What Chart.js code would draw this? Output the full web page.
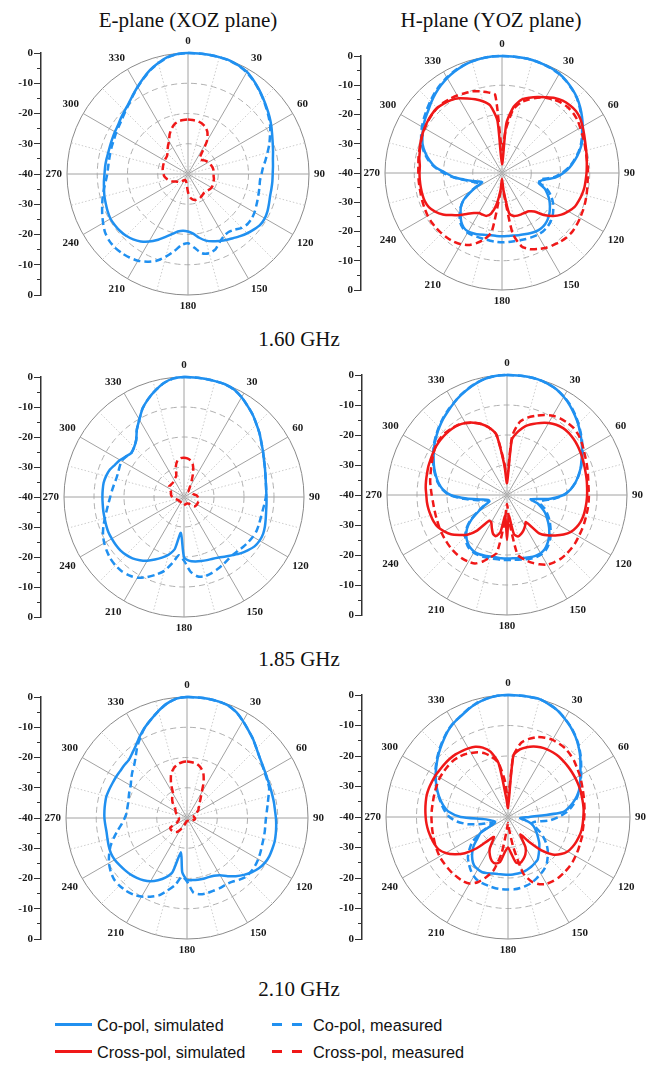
<!DOCTYPE html>
<html><head><meta charset="utf-8">
<script src="https://cdn.jsdelivr.net/npm/chart.js@4.4.0/dist/chart.umd.min.js"></script>
<style>
html,body{margin:0;padding:0;background:#fff;}
body{width:658px;height:1065px;position:relative;overflow:hidden;}
canvas{position:absolute;}
.t{position:absolute;font-family:'Liberation Serif','Times New Roman',serif;font-size:21px;line-height:21px;color:#111;white-space:nowrap;transform:translateX(-50%);}
.leg{position:absolute;font-family:'Liberation Sans',Arial,sans-serif;font-size:16.3px;line-height:18px;color:#111;white-space:nowrap;}
.ln{position:absolute;height:3px;}
</style></head><body>
<div class="t" style="left:188px;top:10px;">E-plane (XOZ plane)</div>
<div class="t" style="left:491px;top:10px;">H-plane (YOZ plane)</div>
<div class="t" style="left:299px;top:329px;">1.60 GHz</div>
<div class="t" style="left:299px;top:649px;">1.85 GHz</div>
<div class="t" style="left:299px;top:979px;">2.10 GHz</div>

<div class="ln" style="left:55px;top:1023px;width:37px;background:#2090F0;"></div>
<div class="leg" style="left:97px;top:1016px;">Co-pol, simulated</div>
<div class="ln" style="left:55px;top:1050px;width:37px;background:#F01818;"></div>
<div class="leg" style="left:97px;top:1043px;">Cross-pol, simulated</div>
<div class="ln" style="left:272px;top:1023px;width:10px;background:#2090F0;"></div>
<div class="ln" style="left:292px;top:1023px;width:10px;background:#2090F0;"></div>
<div class="leg" style="left:313px;top:1016px;">Co-pol, measured</div>
<div class="ln" style="left:272px;top:1050px;width:10px;background:#F01818;"></div>
<div class="ln" style="left:292px;top:1050px;width:10px;background:#F01818;"></div>
<div class="leg" style="left:313px;top:1043px;">Cross-pol, measured</div>

<script>
// angle categories (degrees), 5-degree steps
const ANGLES = [0,5,10,15,20,25,30,35,40,45,50,55,60,65,70,75,80,85,90,95,100,105,110,115,120,125,130,135,140,145,150,155,160,165,170,175,180,185,190,195,200,205,210,215,220,225,230,235,240,245,250,255,260,265,270,275,280,285,290,295,300,305,310,315,320,325,330,335,340,345,350,355];
// linear axis labels beside each polar plot (top to bottom)
const AXIS_LABELS = [0,-10,-20,-30,-40,-30,-20,-10,0];
const R_MIN = -40, R_MAX = 0, R_STEP = 10;

// E-plane 1.60 GHz
const e160CoSim = [0,0,0,0,0,-0.4,-1.0,-2.2,-3.5,-4.8,-6.0,-7.1,-8.2,-9.3,-10.2,-10.9,-11.5,-11.8,-12,-12,-12,-11.9,-11.5,-11.0,-10.7,-10.8,-11.5,-12.3,-13.2,-14.1,-14.8,-15.6,-16.3,-17.2,-18.6,-20.2,-21,-21.2,-20.7,-19.4,-17.8,-15.9,-14.2,-12.8,-11.8,-11.1,-10.7,-10.5,-10.4,-10.7,-11.1,-11.4,-11.8,-12.1,-12.4,-12.5,-12.6,-12.7,-12.6,-12.4,-12.1,-11.8,-11.1,-10.4,-9.5,-8.2,-6.7,-5.1,-3.4,-2.0,-0.8,-0.2];
const e160CoMeas = [0,0,0,0,-0.1,-0.5,-1.2,-2.3,-3.6,-4.9,-6.2,-7.4,-8.6,-10.1,-11.4,-12.8,-14.0,-15.1,-15.7,-16.1,-16.0,-15.8,-15.5,-15.1,-14.6,-14.3,-14.3,-14.8,-16.0,-16.6,-16.3,-15.2,-13.5,-12.9,-13.4,-15.5,-17.1,-16.5,-14.2,-11.7,-9.5,-8.0,-6.9,-6.3,-5.9,-5.7,-5.9,-6.5,-7.6,-8.7,-9.8,-10.8,-11.8,-12.7,-13.3,-13.5,-13.5,-13.4,-13.2,-13.0,-12.6,-12.2,-11.6,-10.7,-9.7,-8.3,-6.8,-5.2,-3.5,-2.1,-0.9,-0.2];
const e160XMeas = [-22,-22.1,-22.2,-22.6,-23.4,-24.8,-27.5,-33,-33.8,-33.5,-33,-32.6,-32.3,-32,-31.8,-31.6,-31.5,-31.5,-31.5,-31.5,-31.3,-31.2,-31.1,-31,-31,-31.2,-31.5,-31.7,-31.8,-31.6,-31.3,-31.1,-31.1,-31.1,-31.5,-32.2,-34,-36,-37,-37.5,-37.7,-37.8,-37.7,-37.3,-36.6,-36.2,-35.9,-35.6,-35,-34.2,-33.5,-33,-32.5,-32.1,-31.9,-31.7,-31.5,-31.4,-31.3,-31.2,-31.1,-31,-30.9,-30.4,-29.5,-28.5,-27.5,-25.6,-24.1,-22.9,-22.3,-22.1];

// H-plane 1.60 GHz
const h160CoSim = [0,0,0,0,-0.2,-0.4,-0.8,-1.6,-2.6,-3.7,-5.1,-6.6,-8.1,-9.5,-11.0,-12.8,-14.7,-16.7,-19.0,-21.7,-26,-27,-24.5,-22.8,-21.3,-20,-18.8,-17.8,-17.1,-16.8,-16.9,-17.3,-17.7,-18.0,-18.3,-18.4,-18.4,-18.4,-18.4,-18.1,-17.6,-17.2,-16.9,-17.2,-18.3,-20.0,-21.6,-24,-28.5,-32.5,-31.5,-29.5,-27,-23.5,-20.8,-17.2,-14.8,-12.8,-11.1,-10.0,-8.9,-7.9,-7.0,-5.8,-4.6,-3.5,-2.5,-1.7,-1.0,-0.5,-0.2,0];
const h160CoMeas = [0,0,0,0,-0.2,-0.5,-0.9,-1.7,-2.7,-3.8,-5.3,-6.9,-8.4,-9.8,-11.3,-13.0,-15.0,-17.0,-19.5,-22.5,-27,-26.5,-23.5,-21.5,-19.9,-18.6,-17.4,-16.5,-15.9,-15.6,-15.6,-15.8,-16.0,-16.2,-16.3,-16.3,-16.3,-16.4,-16.5,-16.6,-16.6,-16.4,-16.4,-16.8,-17.8,-19.5,-21.5,-24,-28,-31.5,-30.5,-29,-26.5,-23.3,-20,-16.9,-14.4,-12.4,-10.7,-9.5,-8.4,-7.4,-6.4,-5.3,-4.2,-3.2,-2.3,-1.5,-0.9,-0.5,-0.2,0];
const h160XSim = [-37,-23,-17,-14,-12.6,-11.3,-10.1,-8.7,-7.7,-7.2,-7.0,-7.4,-8.2,-9.0,-9.7,-10.2,-10.6,-10.9,-11.1,-11.3,-11.4,-11.7,-12.1,-12.6,-13.8,-15.2,-17.1,-19.7,-22.8,-24.0,-24.3,-24.4,-24.5,-24.8,-26,-34,-38,-34,-29,-25.6,-24.4,-24.3,-24.2,-23.3,-21.8,-19.7,-17.6,-15.3,-13.6,-12.4,-11.9,-11.8,-11.8,-11.8,-11.8,-11.8,-11.3,-10.9,-10.3,-9.8,-9.4,-9.0,-8.7,-8.6,-9.0,-9.6,-10.5,-11.9,-13.2,-14.6,-16.5,-22];
const h160XMeas = [-32,-25,-18,-15,-13.3,-11.6,-10.3,-9.3,-8.6,-8.2,-8.2,-8.5,-9.1,-9.6,-10.0,-10.4,-10.6,-10.6,-10.6,-10.6,-10.4,-10.1,-9.8,-9.5,-9.2,-8.9,-8.7,-8.8,-9.2,-9.8,-10.4,-11.3,-12.3,-14.0,-19,-33,-36,-33,-19.5,-16.5,-14.5,-12.8,-11.9,-11.3,-11.0,-10.8,-10.7,-10.6,-10.7,-10.9,-11.1,-11.3,-11.4,-11.4,-11.4,-11.3,-11.0,-10.7,-10.4,-9.9,-9.5,-9.1,-8.8,-8.6,-8.7,-9.0,-9.4,-9.9,-10.3,-11.1,-12.0,-13.2];

// E-plane 1.85 GHz
const e185CoSim = [0,0,0,0,0,-0.5,-1.6,-3.0,-4.3,-5.8,-7.1,-8.5,-9.6,-10.6,-11.3,-11.9,-12.3,-12.5,-12.5,-12.4,-12.2,-11.8,-11.3,-10.9,-10.9,-11.3,-12.3,-13.4,-14.7,-15.8,-16.7,-17.3,-17.6,-17.9,-18.2,-18.6,-20,-28,-22.4,-20.1,-18.5,-17.0,-15.5,-14.3,-13.3,-12.7,-12.3,-12.2,-12.2,-12.2,-12.4,-12.6,-12.7,-12.8,-12.8,-12.8,-12.8,-13.1,-13.6,-14.6,-15.4,-16.4,-17.1,-16.5,-15.2,-12.6,-10.2,-7.4,-5.2,-3.2,-1.4,-0.3];
const e185CoMeas = [0,0,0,0,0,-0.5,-1.6,-3.0,-4.3,-5.8,-7.1,-8.5,-9.6,-10.6,-11.3,-11.9,-12.3,-12.5,-12.7,-13.1,-13.4,-13.5,-13.4,-13.3,-13.5,-13.8,-14.2,-14.6,-14.8,-14.5,-14.0,-13.5,-13.0,-12.7,-13.1,-15.0,-18.8,-20.5,-17.6,-14.5,-12.4,-10.5,-8.9,-8.1,-7.7,-7.7,-8.0,-8.6,-9.3,-10.2,-11.4,-12.7,-13.8,-14.7,-15.4,-15.9,-16.3,-16.6,-16.6,-16.3,-16.0,-16.5,-17.1,-16.5,-15.2,-12.6,-10.2,-7.4,-5.2,-3.2,-1.4,-0.3];
const e185XMeas = [-26.9,-27.1,-27.6,-28.7,-31.0,-33.9,-36,-37.2,-37.5,-37.6,-37.5,-37.3,-37.1,-36.9,-36.8,-36.6,-36.1,-35.6,-35.4,-35.2,-35.1,-35.0,-35.0,-35.0,-35.0,-35.1,-35.2,-35.8,-36.8,-37.3,-37.5,-37.6,-37.6,-37.6,-37.5,-37.4,-37.3,-37.2,-37.3,-37.5,-37.7,-37.8,-37.9,-38,-38,-38,-37.9,-37.9,-37.8,-37.8,-37.5,-37.2,-36.8,-36.4,-36.1,-35.8,-35.6,-35.5,-35.4,-35,-34.3,-33.9,-34,-34,-34,-33.8,-33.4,-33,-32.5,-29.5,-27.6,-27.0];

// H-plane 1.85 GHz
const h185CoSim = [0,0,0,-0.1,-0.5,-1.1,-2.2,-3.5,-5.0,-6.5,-8.1,-9.6,-11.1,-12.6,-13.9,-15.4,-16.9,-18.7,-21.2,-25.5,-32,-29.6,-27.8,-26,-24.6,-23.1,-21.6,-20.2,-19.0,-18.0,-17.6,-17.6,-17.9,-18.3,-18.6,-18.8,-18.8,-18.8,-18.9,-18.8,-18.5,-18.2,-18.2,-18.6,-19.5,-20.8,-22.6,-25.4,-29,-31.8,-33.8,-33.5,-31.5,-26.5,-21.2,-18.5,-16.8,-15.5,-14.2,-13.0,-11.8,-10.5,-9.3,-8.1,-6.9,-5.8,-4.6,-3.4,-2.3,-1.3,-0.5,-0.1];
const h185CoMeas = [0,0,0,-0.1,-0.5,-1.1,-2.1,-3.3,-4.8,-6.3,-7.9,-9.4,-10.9,-12.4,-13.8,-15.3,-16.9,-18.8,-21.0,-24.5,-28.5,-28.5,-26.5,-25.2,-23.7,-22.4,-21.0,-19.6,-18.4,-17.5,-17.1,-17.1,-17.4,-17.8,-18.1,-18.3,-18.3,-18.3,-18.3,-18.2,-18.0,-17.8,-17.8,-18.1,-19.0,-20.3,-22.2,-25,-28.5,-31.5,-33.5,-33,-30,-25.5,-20.8,-18.3,-16.6,-15.3,-14.0,-12.8,-11.6,-10.3,-9.1,-7.9,-6.7,-5.6,-4.5,-3.3,-2.2,-1.2,-0.5,-0.1];
const h185XSim = [-36,-21.5,-18.5,-16.2,-14.8,-13.5,-12.3,-11.4,-10.9,-10.8,-11.0,-11.3,-11.7,-12.1,-12.5,-12.8,-13.0,-13.2,-13.3,-13.4,-13.5,-13.6,-13.9,-14.5,-15.4,-17.0,-19.0,-21.0,-23.3,-29,-28,-27,-26.2,-25.7,-26.8,-33,-25,-33,-27.5,-25.8,-26.3,-28,-29.5,-29.5,-24.5,-21.3,-19.3,-17.2,-15.8,-14.6,-14.0,-13.7,-13.4,-13.2,-13.1,-12.8,-12.6,-12.4,-12.1,-11.9,-11.6,-11.3,-11.2,-11.2,-11.3,-11.6,-12.3,-13.4,-14.8,-16.7,-19.5,-30];
const h185XMeas = [-34,-20.3,-15.2,-13.3,-11.9,-10.6,-9.5,-8.9,-8.6,-8.5,-8.9,-9.6,-10.4,-11.1,-11.6,-12.1,-12.5,-12.7,-12.7,-12.7,-12.7,-12.7,-12.6,-12.5,-12.4,-12.2,-12.1,-12.1,-12.2,-12.6,-13.2,-14.5,-16.0,-17.8,-19.8,-31,-37,-31,-20.4,-18.5,-16.4,-14.8,-14.3,-14.1,-14.1,-14.2,-14.4,-14.6,-14.8,-15.0,-15.2,-15.3,-15.3,-15.2,-14.9,-14.5,-14.0,-13.6,-13.1,-12.5,-11.8,-11.1,-10.8,-10.8,-11.1,-11.5,-12.3,-13.4,-14.8,-16.7,-19.5,-29];

// E-plane 2.10 GHz
const e210CoSim = [0,0,0,-0.1,-0.4,-1.4,-3.0,-4.6,-6.0,-7.5,-8.7,-9.5,-10.1,-10.5,-10.7,-10.8,-10.8,-10.8,-10.6,-10.4,-10.2,-10.0,-10.0,-10.0,-10.3,-11.0,-12.1,-13.4,-14.9,-16.5,-18.1,-18.9,-19.2,-19.2,-19.3,-19.4,-19.5,-22,-28.5,-21.5,-19,-17.3,-15.9,-14.9,-14.2,-13.6,-13.2,-12.8,-12.4,-12.3,-12.5,-12.8,-13.0,-12.9,-12.7,-12.6,-12.5,-12.4,-12.6,-12.8,-12.9,-13.0,-12.9,-12.8,-11.9,-10.6,-8.8,-7.0,-5.3,-3.4,-1.6,-0.4];
const e210CoMeas = [0,0,0,-0.1,-0.4,-1.4,-3.0,-4.6,-6.0,-7.5,-8.7,-9.6,-10.3,-10.7,-11.1,-12.1,-12.9,-13.5,-13.9,-14.0,-13.9,-13.8,-13.6,-13.2,-12.8,-12.5,-12.4,-12.5,-13.3,-14.2,-14.5,-14.4,-14.4,-14.3,-14.4,-15.2,-19,-20.5,-17.5,-15.2,-12.8,-11.3,-10.0,-9.1,-8.6,-8.4,-8.5,-9.2,-10.2,-11.6,-13.1,-15.0,-16.8,-18.4,-19.4,-20,-20,-19.9,-19.5,-19.0,-18.5,-17.5,-16.4,-15.3,-13.6,-11.3,-9.2,-7.0,-5.3,-3.4,-1.6,-0.4];
const e210XMeas = [-21.3,-21.5,-21.8,-22.7,-24.2,-27.0,-30.3,-32.2,-33.5,-34.3,-35.0,-35.4,-36.2,-36.9,-37.4,-37.7,-37.7,-37.6,-37.4,-37.3,-37.4,-37.6,-37.9,-38.1,-38.3,-38.4,-38.5,-38.5,-38.6,-38.7,-38.8,-38.9,-38.9,-39,-39,-39,-39,-38.9,-38.7,-38.3,-37.6,-36.6,-35.4,-34.4,-33.9,-33.7,-33.5,-33.4,-33.6,-36.3,-36.8,-37.1,-37.3,-37.3,-37.3,-37.2,-37.0,-36.7,-36.4,-36.0,-35.6,-35.4,-34.6,-33.5,-32.4,-31.5,-30.8,-27.5,-24.6,-23.0,-22.0,-21.5];

// H-plane 2.10 GHz
const h210CoSim = [0,0,0,0,-0.7,-1.5,-2.8,-4.1,-5.6,-7.3,-9.1,-11.0,-12.6,-13.9,-15.3,-17.1,-19.3,-22,-33,-36,-34.5,-32.4,-31,-30,-29,-27.9,-26.6,-25.5,-24.3,-23,-22.5,-22,-21.6,-21.3,-21.2,-21.1,-21.1,-21.1,-21.0,-20.8,-20.4,-20.0,-20.2,-20.6,-21.8,-23.4,-25.3,-27.8,-29.6,-35,-35.5,-35,-34,-32,-24.5,-20.5,-18.5,-16.9,-15.4,-14.0,-12.6,-11.3,-9.9,-8.5,-7.1,-5.6,-4.4,-3.5,-2.3,-1.3,-0.6,-0.1];
const h210CoMeas = [0,0,0,0,-0.6,-1.5,-2.7,-4.0,-5.5,-7.1,-8.9,-10.7,-12.3,-13.8,-15.2,-16.7,-18.5,-20.5,-23.5,-26.5,-31,-32,-30.5,-28.5,-26.5,-24.6,-23.0,-21.6,-20.2,-19.2,-18.5,-17.8,-17.1,-16.7,-16.4,-16.2,-16.2,-16.2,-16.3,-16.5,-16.7,-16.9,-17.6,-18.7,-20.0,-21.4,-23.5,-25.7,-29.5,-33.5,-34.5,-31,-26.5,-23.2,-20.8,-19.3,-18.0,-16.7,-15.2,-13.8,-12.4,-11.1,-9.7,-8.3,-6.9,-5.5,-4.3,-3.4,-2.2,-1.2,-0.5,-0.1];
const h210XSim = [-37,-19.8,-17.5,-16.3,-15.4,-14.8,-14.4,-14.2,-14.1,-14.2,-14.3,-14.4,-14.5,-14.6,-14.7,-14.9,-15.0,-15.1,-15.3,-15.4,-15.5,-15.8,-16.2,-16.7,-17.4,-18.8,-20.9,-24.5,-29.5,-33,-28.5,-26.5,-25.3,-24.4,-24.8,-28,-30,-28.5,-25,-24.2,-24.6,-26,-28,-32,-30,-25.5,-21.5,-18.7,-16.4,-14.9,-14.3,-13.9,-13.5,-13.2,-13.0,-12.8,-12.6,-12.4,-12.4,-12.5,-12.6,-12.8,-12.9,-13.0,-13.2,-13.6,-14.0,-14.6,-15.8,-17.8,-22,-34];
const h210XMeas = [-34,-20,-15.3,-13.5,-12.1,-11.3,-10.8,-10.7,-10.7,-11.1,-11.6,-12.3,-12.8,-13.4,-13.9,-14.3,-14.6,-14.8,-15.0,-15.1,-15.1,-14.9,-14.8,-14.6,-14.4,-14.2,-14.1,-14.1,-14.1,-14.3,-14.7,-15.7,-17.5,-21,-30,-36,-38,-36,-28,-22,-19,-16.4,-14.8,-14.3,-14.2,-14.1,-14.1,-14.1,-14.1,-14.3,-14.5,-14.7,-14.8,-14.9,-14.9,-14.9,-14.9,-14.8,-14.6,-14.4,-14.2,-14.2,-14.2,-14.2,-14.5,-15.0,-15.8,-16.6,-17.8,-19.6,-22,-28];

const BLUE = '#2090F0', RED = '#F01818';
const FONT = "'Liberation Serif','Times New Roman',serif";

function ds(data, color, dashed) {
  return { data: data, borderColor: color, backgroundColor: color, borderWidth: 2.5,
    borderDash: dashed ? [7, 4] : [], pointRadius: 0, pointHoverRadius: 0, pointHitRadius: 0,
    fill: false, tension: 0.22 };
}

function makeRadar(cx, cy, R, datasets) {
  const k = R + 18;
  const H = 2 * k, W = H + 64;
  const c = document.createElement('canvas');
  c.width = W; c.height = H;
  c.style.width = W + 'px'; c.style.height = H + 'px';
  c.style.left = (cx - W / 2) + 'px'; c.style.top = (cy - k) + 'px';
  document.body.appendChild(c);
  new Chart(c, {
    type: 'radar',
    data: { labels: ANGLES, datasets: datasets },
    options: {
      responsive: false, animation: false, devicePixelRatio: 1,
      events: [],
      layout: { padding: 0 },
      plugins: { legend: { display: false }, tooltip: { enabled: false } },
      scales: {
        r: {
          min: R_MIN, max: R_MAX,
          ticks: { display: false, stepSize: R_STEP },
          grid: { circular: true, lineWidth: 1,
            color: ctx => ctx.tick.value === R_MAX ? '#8a8a8a' : (ctx.tick.value === R_MIN ? 'rgba(0,0,0,0)' : '#b0b0b0') },
          border: { dash: ctx => ctx.tick.value === R_MAX ? [] : [6, 4] },
          angleLines: {
            color: ctx => ctx.index % 6 === 0 ? '#a2a2a2' : '#cccccc',
            lineWidth: ctx => ctx.index % 3 === 0 ? 1 : 0,
            borderDash: ctx => ctx.index % 6 === 0 ? [] : [1.5, 2]
          },
          pointLabels: {
            padding: 5, color: '#1a1a1a',
            font: { family: FONT, size: 11, weight: 'bold', lineHeight: '13px' },
            callback: (lab, i) => (i % 6 === 0 ? String(lab) : '')
          }
        }
      }
    }
  });
}

function makeAxis(xLine, cy, R) {
  const AW = 40, inner = 34;
  const H = 2 * R + 20;
  const c = document.createElement('canvas');
  c.width = AW; c.height = H;
  c.style.width = AW + 'px'; c.style.height = H + 'px';
  c.style.left = (xLine - inner) + 'px'; c.style.top = (cy - R - 10) + 'px';
  document.body.appendChild(c);
  new Chart(c, {
    type: 'scatter',
    data: { datasets: [{ data: [] }] },
    options: {
      responsive: false, animation: false, devicePixelRatio: 1, events: [],
      layout: { padding: { top: 10, bottom: 10, left: 0, right: 0 } },
      plugins: { legend: { display: false }, tooltip: { enabled: false } },
      scales: {
        x: { display: false },
        y: {
          min: -40, max: 40,
          afterFit: s => { s.width = inner; },
          ticks: { stepSize: 5, autoSkip: false, padding: 1, color: '#1a1a1a',
            font: { family: FONT, size: 11, weight: 'bold' },
            callback: v => (v % 10 === 0 ? String(AXIS_LABELS[(40 - v) / 10]) : '') },
          grid: { drawOnChartArea: false, drawTicks: true, tickLength: 7, tickColor: '#333', tickWidth: 1,
            tickBorderDash: ctx => (ctx.tick && ctx.tick.value % 10 === 0 ? [] : [0, 3, 10]) },
          border: { display: true, color: '#333', width: 1.5 }
        }
      }
    }
  });
}

const panels = [
  { cx: 188, cy: 174, R: 121, ax: 41, sets: [ds(e160XMeas, RED, true), ds(e160CoMeas, BLUE, true), ds(e160CoSim, BLUE, false)] },
  { cx: 502, cy: 173, R: 117, ax: 361, sets: [ds(h160XMeas, RED, true), ds(h160XSim, RED, false), ds(h160CoMeas, BLUE, true), ds(h160CoSim, BLUE, false)] },
  { cx: 184, cy: 497, R: 120, ax: 41, sets: [ds(e185XMeas, RED, true), ds(e185CoMeas, BLUE, true), ds(e185CoSim, BLUE, false)] },
  { cx: 507, cy: 495, R: 120, ax: 362, sets: [ds(h185XMeas, RED, true), ds(h185XSim, RED, false), ds(h185CoMeas, BLUE, true), ds(h185CoSim, BLUE, false)] },
  { cx: 187, cy: 818, R: 121, ax: 41, sets: [ds(e210XMeas, RED, true), ds(e210CoMeas, BLUE, true), ds(e210CoSim, BLUE, false)] },
  { cx: 508, cy: 817, R: 122, ax: 362, sets: [ds(h210XMeas, RED, true), ds(h210XSim, RED, false), ds(h210CoMeas, BLUE, true), ds(h210CoSim, BLUE, false)] }
];
panels.forEach(p => { makeAxis(p.ax, p.cy, p.R); makeRadar(p.cx, p.cy, p.R, p.sets); });
</script>
</body></html>
